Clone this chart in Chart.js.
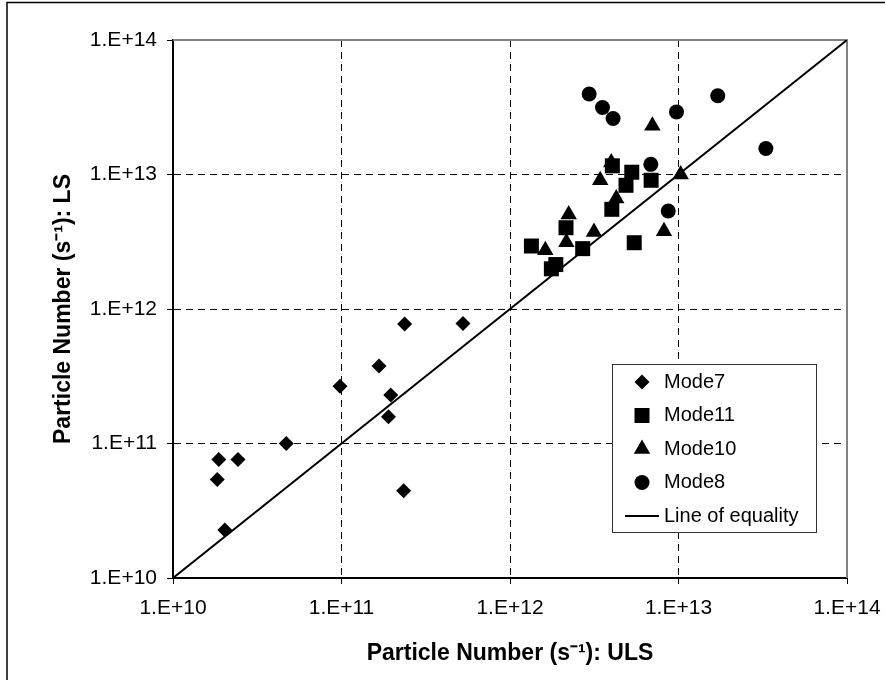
<!DOCTYPE html>
<html>
<head>
<meta charset="utf-8">
<script src="https://cdn.jsdelivr.net/npm/chart.js@4.4.1/dist/chart.umd.min.js"></script>
<style>
  html, body { margin: 0; padding: 0; background: #fff; }
</style>
</head>
<body>
<canvas id="myChart" width="885" height="680"></canvas>
<script>
const tickValues = [1e10, 1e11, 1e12, 1e13, 1e14];
const tickLabels = ["1.E+10", "1.E+11", "1.E+12", "1.E+13", "1.E+14"];

const mode7X = [2.37e11, 5.26e11, 1.67e11, 9.8e10, 1.96e11, 1.90e11, 4.7e10, 1.87e10, 2.43e10, 1.83e10, 2.34e11, 2.03e10];
const mode7Y = [7.75e11, 7.8e11, 3.77e11, 2.67e11, 2.29e11, 1.58e11, 1.0e11, 7.6e10, 7.6e10, 5.4e10, 4.45e10, 2.27e10];

const mode11X = [4.05e12, 5.28e12, 6.88e12, 4.88e12, 4.02e12, 2.15e12, 1.34e12, 2.70e12, 5.46e12, 1.87e12, 1.76e12];
const mode11Y = [1.16e13, 1.04e13, 9.06e12, 8.31e12, 5.51e12, 4.02e12, 2.94e12, 2.81e12, 3.11e12, 2.14e12, 1.99e12];

const mode10X = [7.0e12, 3.99e12, 3.43e12, 1.03e13, 4.27e12, 2.23e12, 2.16e12, 3.15e12, 8.2e12, 1.62e12];
const mode10Y = [2.30e13, 1.23e13, 9.06e12, 1.0e13, 6.62e12, 5.05e12, 3.14e12, 3.73e12, 3.79e12, 2.73e12];

const mode8X = [2.95e12, 3.54e12, 4.09e12, 9.73e12, 1.71e13, 3.30e13, 6.85e12, 8.69e12];
const mode8Y = [3.97e13, 3.15e13, 2.61e13, 2.92e13, 3.85e13, 1.56e13, 1.19e13, 5.35e12];

const equalityX = [1e10, 1e14];
const equalityY = [1e10, 1e14];

const FONT = "'Liberation Sans', Arial, sans-serif";
Chart.defaults.font.family = FONT;
Chart.defaults.color = "#000";

function pairs(xs, ys) {
  return xs.map((x, i) => ({x: x, y: ys[i]}));
}

function gridColor(c) {
  if (c.tick && (c.tick.value === tickValues[0] || c.tick.value === tickValues[tickValues.length - 1])) {
    return "rgba(0,0,0,0)";
  }
  return "#000";
}

// outer frame (only top and left edges show in the picture)
const outerFrame = {
  id: "outerFrame",
  beforeDraw(chart) {
    const ctx = chart.ctx;
    ctx.save();
    ctx.fillStyle = "#fff";
    ctx.fillRect(0, 0, chart.width, chart.height);
    ctx.strokeStyle = "#000";
    ctx.lineWidth = 1.5;
    ctx.beginPath();
    ctx.moveTo(7, chart.height);
    ctx.lineTo(7, 2.5);
    ctx.lineTo(chart.width, 2.5);
    ctx.stroke();
    ctx.restore();
  }
};

// grey top / right edges of the plot area
const plotFrame = {
  id: "plotFrame",
  beforeDatasetsDraw(chart) {
    const a = chart.chartArea;
    const ctx = chart.ctx;
    ctx.save();
    ctx.strokeStyle = "#808080";
    ctx.lineWidth = 2;
    ctx.beginPath();
    ctx.moveTo(a.left, a.top);
    ctx.lineTo(a.right, a.top);
    ctx.lineTo(a.right, a.bottom);
    ctx.stroke();
    ctx.restore();
  }
};

// boxed legend inside the plot, lower right
const boxLegend = {
  id: "boxLegend",
  afterDraw(chart) {
    const ctx = chart.ctx;
    const box = {left: 612, top: 364, right: 816, bottom: 532};
    ctx.save();
    ctx.fillStyle = "#fff";
    ctx.fillRect(box.left, box.top, box.right - box.left, box.bottom - box.top);
    ctx.strokeStyle = "#333";
    ctx.lineWidth = 1;
    ctx.strokeRect(box.left + 0.5, box.top + 0.5, box.right - box.left, box.bottom - box.top);
    ctx.font = "20px " + FONT;
    ctx.textBaseline = "middle";
    ctx.textAlign = "left";
    const mx = box.left + 30;
    chart.data.datasets.forEach((ds, i) => {
      const y = box.top + 18 + i * 33.5;
      ctx.fillStyle = "#000";
      ctx.strokeStyle = "#000";
      if (ds.type === "line") {
        ctx.lineWidth = 2;
        ctx.beginPath();
        ctx.moveTo(mx - 17, y);
        ctx.lineTo(mx + 17, y);
        ctx.stroke();
      } else {
        Chart.helpers.drawPoint(ctx, {pointStyle: ds.pointStyle, radius: ds.pointRadius, rotation: 0, borderWidth: 0}, mx, y);
      }
      ctx.fillStyle = "#000";
      ctx.fillText(ds.label, 664, y);
    });
    ctx.restore();
  }
};

new Chart("myChart", {
  type: "scatter",
  data: {
    datasets: [{
      label: "Mode7",
      data: pairs(mode7X, mode7Y),
      pointStyle: "rectRot",
      pointRadius: 7.5,
      backgroundColor: "#000",
      borderColor: "#000",
      borderWidth: 0
    }, {
      label: "Mode11",
      data: pairs(mode11X, mode11Y),
      pointStyle: "rect",
      pointRadius: 10.6,
      backgroundColor: "#000",
      borderColor: "#000",
      borderWidth: 0
    }, {
      label: "Mode10",
      data: pairs(mode10X, mode10Y),
      pointStyle: "triangle",
      pointRadius: 9.5,
      backgroundColor: "#000",
      borderColor: "#000",
      borderWidth: 0
    }, {
      label: "Mode8",
      data: pairs(mode8X, mode8Y),
      pointStyle: "circle",
      pointRadius: 7.5,
      backgroundColor: "#000",
      borderColor: "#000",
      borderWidth: 0
    }, {
      type: "line",
      label: "Line of equality",
      data: pairs(equalityX, equalityY),
      borderColor: "#000",
      borderWidth: 2,
      pointRadius: 0,
      showLine: true,
      fill: false
    }]
  },
  options: {
    responsive: false,
    animation: false,
    layout: {padding: {left: 0, top: 40, right: 38, bottom: 0}},
    plugins: {
      legend: {display: false},
      tooltip: {enabled: false}
    },
    scales: {
      x: {
        type: "logarithmic",
        position: "bottom",
        min: 1e10,
        max: 1e14,
        afterBuildTicks: s => { s.ticks = tickValues.map(v => ({value: v})); },
        afterFit: s => { s.height = 102; s.paddingLeft = 0; s.paddingRight = 0; },
        ticks: {
          callback: (v, i) => tickLabels[i],
          font: {size: 21},
          color: "#000",
          padding: 12,
          maxRotation: 0,
          autoSkip: false
        },
        grid: {color: gridColor, lineWidth: 1, tickLength: 6, tickColor: "#000", tickWidth: 1},
        border: {display: true, color: "#000", width: 2, dash: [7, 5]},
        title: {
          display: true,
          text: "Particle Number (s\u207B\u00B9): ULS",
          font: {size: 23, weight: "bold"},
          color: "#000",
          padding: {top: 0, bottom: 13}
        }
      },
      y: {
        type: "logarithmic",
        position: "left",
        min: 1e10,
        max: 1e14,
        afterBuildTicks: s => { s.ticks = tickValues.map(v => ({value: v})); },
        afterFit: s => { s.width = 173; s.paddingTop = 0; s.paddingBottom = 0; },
        ticks: {
          callback: (v, i) => tickLabels[i],
          font: {size: 21},
          color: "#000",
          padding: 10,
          autoSkip: false
        },
        grid: {color: gridColor, lineWidth: 1, tickLength: 6, tickColor: "#000", tickWidth: 1},
        border: {display: true, color: "#000", width: 2, dash: [7, 5]},
        title: {
          display: true,
          text: "Particle Number (s\u207B\u00B9): LS",
          font: {size: 23, weight: "bold"},
          color: "#000",
          padding: {top: 50, bottom: 0}
        }
      }
    }
  },
  plugins: [outerFrame, plotFrame, boxLegend]
});
</script>
</body>
</html>
